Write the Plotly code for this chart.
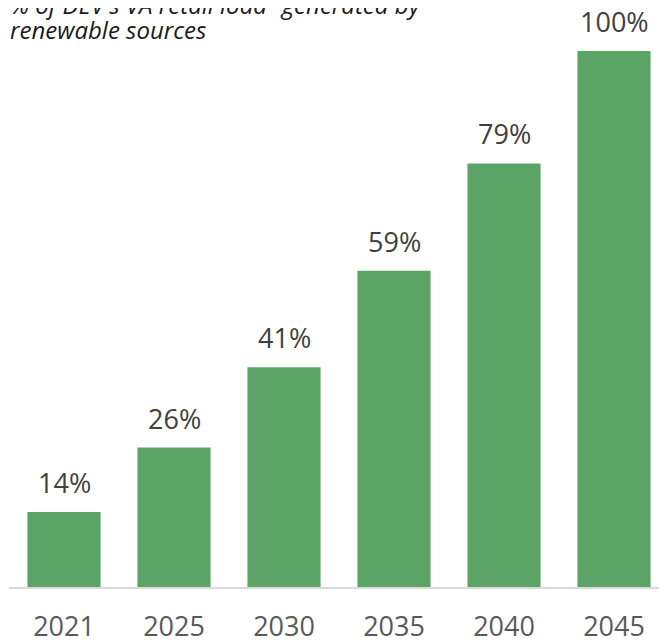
import plotly.graph_objects as go

years = ["2021", "2025", "2030", "2035", "2040", "2045"]
values = [14, 26, 41, 59, 79, 100]
labels = ["14%", "26%", "41%", "59%", "79%", "100%"]
title_line1 = "% of DEV's VA retail load¹ generated by"
title_line2 = "renewable sources"

PLOT_H = 579
PLOT_W = 660

fig = go.Figure(go.Bar(
    x=years, y=values,
    marker=dict(color="#5CA465", line=dict(width=0)),
    hoverinfo="skip",
))

annotations = []
for i, (v, lab) in enumerate(zip(values, labels)):
    annotations.append(dict(
        x=i, y=v, xref="x", yref="y", text=lab, showarrow=False,
        xanchor="center", yanchor="bottom", yshift=9,
        font=dict(family="Open Sans", size=27, color="#404040"),
    ))

for line, bottom in [(title_line1, 15), (title_line2, 40)]:
    annotations.append(dict(
        text=line, xref="paper", yref="paper", x=-1 / PLOT_W, y=1 - bottom / PLOT_H,
        xanchor="left", yanchor="bottom", showarrow=False, align="left",
        font=dict(family="Open Sans", size=24, color="#1a1a1a", style="italic"),
    ))

fig.update_layout(
    width=667, height=642,
    margin=dict(l=1, r=6, t=0, b=63),
    plot_bgcolor="white", paper_bgcolor="white",
    bargap=0.335, showlegend=False,
    xaxis=dict(type="category", range=[-0.5, 5.5], showline=True,
               linecolor="#D9D9D9", linewidth=2, ticks="",
               tickfont=dict(family="Open Sans", size=27, color="#595959"),
               ticklabelstandoff=15, fixedrange=True, automargin=False),
    yaxis=dict(range=[0, 108], visible=False, showgrid=False, fixedrange=True),
    annotations=annotations,
)
fig.write_html("out.html")
